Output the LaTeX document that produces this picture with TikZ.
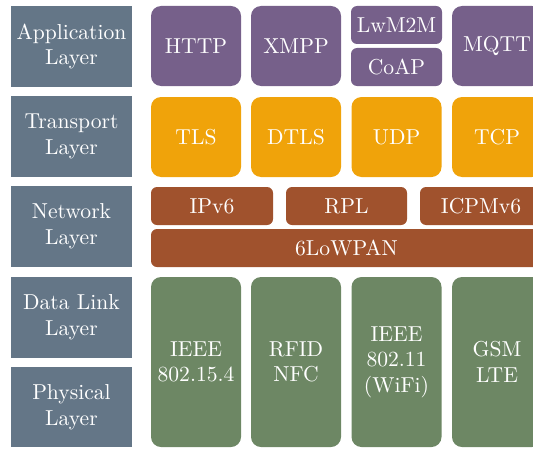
\documentclass[tikz,border=0pt]{standalone}
\usepackage{tikz}
\usepackage{xcolor}
\definecolor{steel}{HTML}{647687}
\definecolor{mauve}{HTML}{76608A}
\definecolor{amber}{HTML}{F0A30A}
\definecolor{sienna}{HTML}{A0522D}
\definecolor{moss}{HTML}{6D8764}
\tikzset{
	box/.style={inner sep=0pt, text=white, align=center, font=\fontsize{10.8}{12.8}\selectfont},
	layer/.style={box, fill=steel, minimum width=60.5pt, minimum height=40.5pt},
	proto/.style={box, rounded corners=5pt, minimum width=45pt, minimum height=40pt},
	half/.style={box, rounded corners=3pt, minimum height=19pt}
}

\begin{document}
\begin{tikzpicture}[x=0.5pt, y=-0.5pt]
	\clip (0,0) rectangle (533,449);
	% layer names
	\node (app) [layer] at (71.5, 46.5) {Application\\Layer};
	\node (trans) [layer] at (71.5, 136.5) {Transport\\Layer};
	\node (net) [layer] at (71.5, 226.5) {Network\\Layer};
	\node (link) [layer] at (71.5, 317.5) {Data Link\\Layer};
	\node (phys) [layer, minimum height=40pt] at (71.5, 407) {Physical\\Layer};
	% application
	\node (http) [proto, fill=mauve] at (196, 46) {HTTP};
	\node (xmpp) [proto, fill=mauve] at (296, 46) {XMPP};
	\node (lwm2m) [half, fill=mauve, minimum width=45.5pt] at (396.5, 25) {LwM2M};
	\node (coap) [half, fill=mauve, minimum width=45.5pt] at (396.5, 67) {CoAP};
	\node (mqtt) [proto, fill=mauve] at (497, 46) {MQTT};
	% transport
	\node (tls) [proto, fill=amber] at (196, 137) {TLS};
	\node (dtls) [proto, fill=amber] at (296, 137) {DTLS};
	\node (udp) [proto, fill=amber] at (396.5, 137) {UDP};
	\node (tcp) [proto, fill=amber] at (497, 137) {TCP};
	% network
	\node (ipv6) [half, fill=sienna, minimum width=61pt] at (212, 206) {IPv6};
	\node (rpl) [half, fill=sienna, minimum width=60.5pt] at (346.5, 206) {RPL};
	\node (icmp) [half, fill=sienna, minimum width=61pt] at (481, 206) {ICPMv6};
	\node (lowpan) [half, fill=sienna, minimum width=195.5pt] at (346.5, 248) {6LoWPAN};
	% link / physical
	\node (ieee4) [proto, fill=moss, minimum height=85pt] at (196, 362) {IEEE\\802.15.4};
	\node (rfid) [proto, fill=moss, minimum height=85pt] at (296, 362) {RFID\\NFC};
	\node (wifi) [proto, fill=moss, minimum height=85pt] at (396.5, 362) {IEEE\\802.11\\(WiFi)};
	\node (gsm) [proto, fill=moss, minimum height=85pt] at (497, 362) {GSM\\LTE};
\end{tikzpicture}
\end{document}
